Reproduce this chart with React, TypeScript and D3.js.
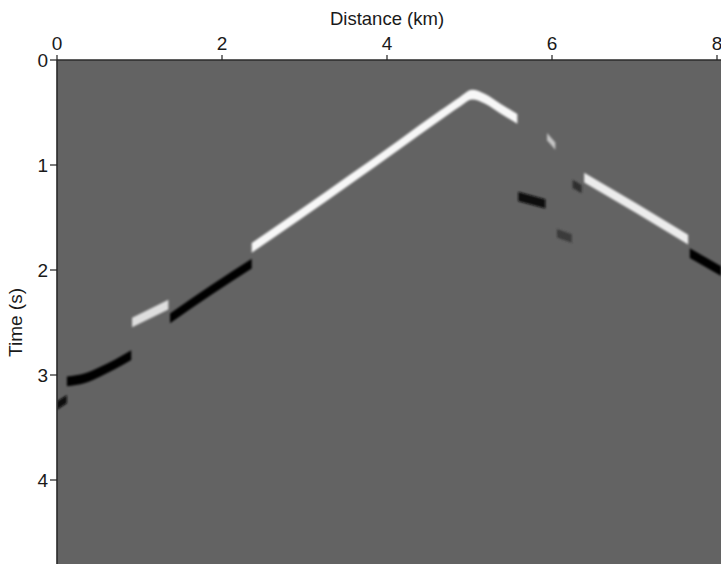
import React from "react";
import * as d3 from "d3";

const W = 721;
const H = 564;

const xTicks = [0, 2, 4, 6, 8];
const yTicks = [0, 1, 2, 3, 4];

// events picked off the section: [distance (km), time (s)]
const apexWhite: [number, number][] = [
  [2.36, 1.79], [2.95, 1.47], [3.55, 1.14], [4.16, 0.8], [4.64, 0.53],
  [4.88, 0.4], [5.03, 0.33], [5.19, 0.37], [5.37, 0.46], [5.58, 0.56],
];
const smallWhite: [number, number][] = [[5.94, 0.73], [6.04, 0.82]];
const midBlack: [number, number][] = [[5.59, 1.3], [5.92, 1.37]];
const darkBit1: [number, number][] = [[6.25, 1.18], [6.36, 1.23]];
const darkBit2: [number, number][] = [[6.06, 1.65], [6.24, 1.7]];
const rightWhite: [number, number][] = [[6.39, 1.12], [7.02, 1.41], [7.65, 1.71]];
const rightBlack: [number, number][] = [[7.67, 1.84], [7.85, 1.92], [8.05, 2.01]];
const leftBlack1: [number, number][] = [[1.37, 2.46], [1.89, 2.18], [2.36, 1.94]];
const leftWhite: [number, number][] = [[0.91, 2.5], [1.35, 2.33]];
const leftBlack2: [number, number][] = [
  [0.12, 3.06], [0.34, 3.03], [0.52, 2.97], [0.7, 2.9], [0.9, 2.81],
];
const edgeBlack: [number, number][] = [[0.0, 3.29], [0.12, 3.23]];

const events = [
  { pts: apexWhite, color: "#f7f7f7", half: 0.046 },
  { pts: smallWhite, color: "#c4c4c4", half: 0.035 },
  { pts: midBlack, color: "#0c0c0c", half: 0.045 },
  { pts: darkBit1, color: "#2e2e2e", half: 0.04 },
  { pts: darkBit2, color: "#3a3a3a", half: 0.04 },
  { pts: rightWhite, color: "#ececec", half: 0.046 },
  { pts: rightBlack, color: "#050505", half: 0.046 },
  { pts: leftBlack1, color: "#050505", half: 0.046 },
  { pts: leftWhite, color: "#dedede", half: 0.046 },
  { pts: leftBlack2, color: "#060606", half: 0.046 },
  { pts: edgeBlack, color: "#080808", half: 0.04 },
];

export default function App() {
  const x = d3.scaleLinear().domain([0, 8]).range([57, 717]);
  const y = d3.scaleLinear().domain([0, 5]).range([60, 585]);
  const left = x(0);
  const top = y(0);
  const font = "'Liberation Sans', Arial, Helvetica, sans-serif";

  const band = (half: number) =>
    d3
      .area<[number, number]>()
      .x((d) => x(d[0]))
      .y0((d) => y(d[1] - half))
      .y1((d) => y(d[1] + half))
      .curve(d3.curveMonotoneX);

  return (
    <svg
      width={W}
      height={H}
      style={{ position: "absolute", left: 0, top: 0, background: "#fff" }}
      fontFamily={font}
    >
      <defs>
        <clipPath id="plot">
          <rect x={left} y={top} width={W - left} height={H - top} />
        </clipPath>
        <filter id="soft" x="-5%" y="-5%" width="110%" height="110%">
          <feGaussianBlur stdDeviation="0.9" />
        </filter>
      </defs>

      <rect x={left} y={top} width={W - left} height={H - top} fill="#636363" />

      <g clipPath="url(#plot)">
        <g filter="url(#soft)">
          {events.map((e, i) => (
            <path key={i} d={band(e.half)(e.pts) || ""} fill={e.color} />
          ))}
        </g>
      </g>

      {/* frame */}
      <line x1={left} x2={W} y1={top} y2={top} stroke="#2a2a2a" strokeWidth={1.6} />
      <line x1={left} x2={left} y1={top} y2={H} stroke="#2a2a2a" strokeWidth={1.6} />

      {/* top axis */}
      {xTicks.map((t) => (
        <g key={"x" + t} transform={`translate(${x(t)},0)`}>
          <line y1={top - 5} y2={top} stroke="#222" strokeWidth={1.2} />
          <text y={top - 10} textAnchor="middle" fontSize={19} fill="#1a1a1a">
            {t}
          </text>
        </g>
      ))}
      <text
        x={(x(0) + x(8)) / 2}
        y={25}
        textAnchor="middle"
        fontSize={18.5}
        fill="#1a1a1a"
      >
        Distance (km)
      </text>

      {/* left axis */}
      {yTicks.map((t) => (
        <g key={"y" + t} transform={`translate(0,${y(t)})`}>
          <line x1={left - 7} x2={left} stroke="#222" strokeWidth={1.2} />
          <text
            x={left - 9}
            dy="0.35em"
            textAnchor="end"
            fontSize={19}
            fill="#1a1a1a"
          >
            {t}
          </text>
        </g>
      ))}
      <text
        transform={`translate(22,${y(2.5)}) rotate(-90)`}
        textAnchor="middle"
        fontSize={19}
        fill="#1a1a1a"
      >
        Time (s)
      </text>
    </svg>
  );
}
